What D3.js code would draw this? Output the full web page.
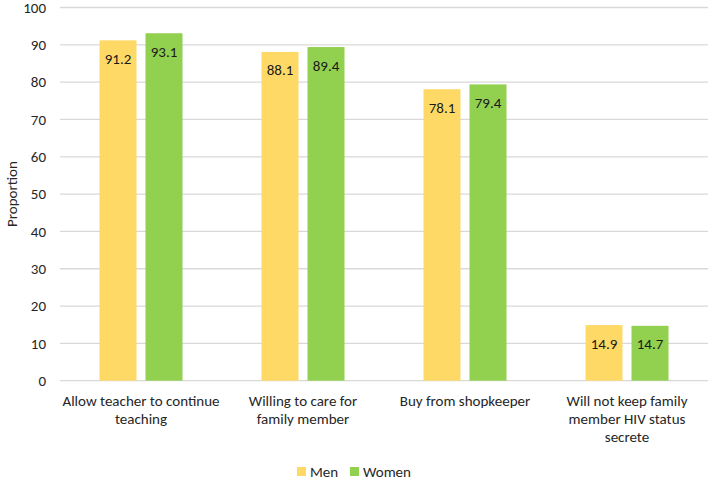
<!DOCTYPE html>
<html><head><meta charset="utf-8">
<script src="https://cdn.jsdelivr.net/npm/d3@7"></script>
<style>
body{margin:0;background:#fff;}
text{font-family:Carlito,Calibri,Lato,"Liberation Sans",sans-serif;fill:#262626;}
</style></head>
<body><svg id="c" width="708" height="481"></svg>
<script>
const categories = [
  ["Allow teacher to continue", "teaching"],
  ["Willing to care for", "family member"],
  ["Buy from shopkeeper"],
  ["Will not keep family", "member HIV status", "secrete"]
];
const series = ["Men", "Women"];
const menValues = [91.2, 88.1, 78.1, 14.9];
const womenValues = [93.1, 89.4, 79.4, 14.7];
const yTicks = [0,10,20,30,40,50,60,70,80,90,100];
const colors = {Men:"#FFD966", Women:"#92D050"};

(function(){
const FS = 15;
const svg = d3.select("#c");
const mLeft = 60, mRight = 708, mTop = 7.5, mBottom = 380.7;
const y = d3.scaleLinear().domain([0,100]).range([mBottom, mTop]);
const x0 = d3.scaleBand().domain(d3.range(categories.length)).range([mLeft, mRight]).padding(0);
const groupW = 83;
const x1 = d3.scaleBand().domain(series)
  .range([(x0.bandwidth()-groupW)/2, (x0.bandwidth()+groupW)/2]).paddingInner(0.1957);

// gridlines
svg.append("g").selectAll("line").data(yTicks).join("line")
  .attr("x1", mLeft).attr("x2", mRight)
  .attr("y1", d=>y(d)).attr("y2", d=>y(d))
  .attr("stroke", "#D9D9D9").attr("stroke-width", 1.3);

// y axis labels
const yAxis = d3.axisLeft(y).tickValues(yTicks).tickSize(0).tickPadding(14);
const ga = svg.append("g").attr("transform", `translate(${mLeft},0)`).call(yAxis);
ga.select(".domain").remove();
ga.selectAll("text").attr("font-size", FS).style("font-family", "Carlito,Calibri,Lato,'Liberation Sans',sans-serif").attr("fill","#262626");

// y title
svg.append("text").attr("transform", `translate(17,${(mTop+mBottom)/2}) rotate(-90)`)
  .attr("text-anchor","middle").attr("font-size", FS).text("Proportion");

const data = categories.map((c,i)=>({i, vals:[{s:"Men",v:menValues[i]},{s:"Women",v:womenValues[i]}]}));
const g = svg.append("g").selectAll("g").data(data).join("g")
  .attr("transform", d=>`translate(${x0(d.i)},0)`);
g.selectAll("rect").data(d=>d.vals).join("rect")
  .attr("x", d=>x1(d.s)).attr("width", x1.bandwidth())
  .attr("y", d=>y(d.v)).attr("height", d=>mBottom - y(d.v))
  .attr("fill", d=>colors[d.s]);
g.selectAll("text.val").data(d=>d.vals).join("text").attr("class","val")
  .attr("x", d=>x1(d.s)+x1.bandwidth()/2).attr("y", d=>y(d.v)+23.5)
  .attr("text-anchor","middle").attr("font-size", FS).style("fill","#1a1a1a")
  .text(d=>d.v.toFixed(1));

// category labels
const cl = svg.append("g").selectAll("text").data(categories).join("text")
  .attr("text-anchor","middle").attr("font-size", FS)
  .attr("x", (d,i)=>x0(i)+x0.bandwidth()/2).attr("y", 406);
cl.selectAll("tspan").data(d=>d).join("tspan")
  .attr("x", function(){return d3.select(this.parentNode).attr("x");})
  .attr("dy", (d,i)=>i===0?0:18).text(d=>d);

// legend
const leg = svg.append("g");
const legItems = [{s:"Men", x:297},{s:"Women", x:350}];
leg.selectAll("rect").data(legItems).join("rect")
  .attr("x", d=>d.x).attr("y", 467).attr("width", 9).attr("height", 9)
  .attr("fill", d=>colors[d.s]);
leg.selectAll("text").data(legItems).join("text")
  .attr("x", d=>d.x+13).attr("y", 476.5).attr("font-size", FS).text(d=>d.s);
})();
</script></body></html>
